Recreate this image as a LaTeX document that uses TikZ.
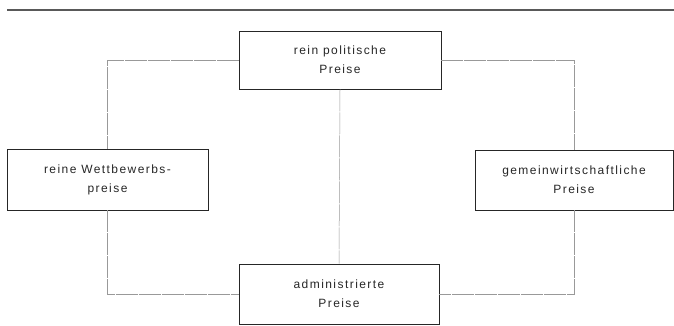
\documentclass[tikz,border=0pt]{standalone}
\usepackage{fontspec}
\setmainfont{Liberation Sans}[LetterSpace=12]
\begin{document}
\begin{tikzpicture}[x=1pt,y=-1pt,
  pbox/.style={draw=black!85,line width=0.8pt,align=center,inner sep=0pt,
    font=\fontsize{12}{19}\selectfont,text=black!85},
  conn/.style={draw=black!40,line width=0.5pt,dash pattern=on 22pt off 1pt}]
\useasboundingbox (0,0) rectangle (674,325);
\coordinate (r1) at (7,10);
\coordinate (r2) at (674,10);
\draw[line width=1.6pt,black!65] (r1) -- (r2);
\node[pbox,minimum width=202pt,minimum height=58pt] (top) at (340,60) {rein politische\\Preise};
\node[pbox,minimum width=201pt,minimum height=61pt] (left) at (107.5,179.5) {reine Wettbewerbs-\\preise};
\node[pbox,minimum width=198pt,minimum height=60pt] (right) at (574,180) {gemeinwirtschaftliche\\Preise};
\node[pbox,minimum width=200pt,minimum height=60pt] (bot) at (339,294) {administrierte\\Preise};
\draw[conn] (top.west) -| (left.north);
\draw[conn] (top.east) -| (right.north);
\draw[conn] (left.south) |- (bot.west);
\draw[conn] (right.south) |- (bot.east);
\draw[conn] (top.south) -- (bot.north);
\end{tikzpicture}
\end{document}
